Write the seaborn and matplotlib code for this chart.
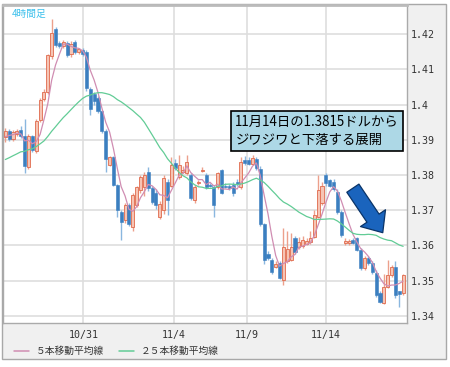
import numpy as np
import pandas as pd
import matplotlib
matplotlib.use('Agg')
import matplotlib.pyplot as plt
from matplotlib.patches import Rectangle
from matplotlib.lines import Line2D
from matplotlib.ticker import FuncFormatter
import seaborn as sns

# 4時間足 OHLC (picture read, 104 bars)
opens = [1.3907, 1.3925, 1.3903, 1.3918, 1.3928, 1.3910, 1.3822, 1.3910, 1.3868, 1.3957,
         1.4015, 1.4035, 1.4138, 1.4215, 1.4175, 1.4166, 1.4176, 1.4145, 1.4178, 1.4150,
         1.4155, 1.4150, 1.4045, 1.4030, 1.4018, 1.3982, 1.3925, 1.3830, 1.3850, 1.3772,
         1.3695, 1.3672, 1.3715, 1.3653, 1.3715, 1.3758, 1.3766, 1.3810, 1.3763, 1.3750,
         1.3682, 1.3700, 1.3781, 1.3770, 1.3834, 1.3795, 1.3810, 1.3805, 1.3800, 1.3729,
         1.3777, 1.3812, 1.3800, 1.3772, 1.3767, 1.3767, 1.3814, 1.3770, 1.3768, 1.3772,
         1.3780, 1.3767, 1.3843, 1.3843, 1.3832, 1.3845, 1.3818, 1.3660, 1.3575, 1.3559,
         1.3540, 1.3550, 1.3502, 1.3555, 1.3560, 1.3621, 1.3595, 1.3598, 1.3605, 1.3610,
         1.3625, 1.3682, 1.3720, 1.3800, 1.3785, 1.3780, 1.3753, 1.3696, 1.3608, 1.3608,
         1.3615, 1.3620, 1.3587, 1.3536, 1.3565, 1.3550, 1.3522, 1.3465, 1.3437, 1.3483,
         1.3516, 1.3540, 1.3470, 1.3465]
highs = [1.3935, 1.3930, 1.3928, 1.3930, 1.3940, 1.3960, 1.3918, 1.3915, 1.3960, 1.4020,
         1.4045, 1.4145, 1.4243, 1.4220, 1.4182, 1.4185, 1.4180, 1.4180, 1.4185, 1.4162,
         1.4160, 1.4155, 1.4050, 1.4035, 1.4025, 1.3985, 1.3930, 1.3855, 1.3855, 1.3775,
         1.3700, 1.3720, 1.3720, 1.3748, 1.3770, 1.3800, 1.3810, 1.3822, 1.3770, 1.3760,
         1.3725, 1.3800, 1.3790, 1.3852, 1.3845, 1.3857, 1.3825, 1.3857, 1.3805, 1.3772,
         1.3785, 1.3822, 1.3805, 1.3778, 1.3772, 1.3808, 1.3818, 1.3778, 1.3775, 1.3780,
         1.3790, 1.3850, 1.3855, 1.3850, 1.3858, 1.3852, 1.3825, 1.3665, 1.3585, 1.3565,
         1.3555, 1.3555, 1.3650, 1.3640, 1.3635, 1.3628, 1.3625, 1.3628, 1.3620, 1.3640,
         1.3700, 1.3800, 1.3780, 1.3805, 1.3790, 1.3788, 1.3760, 1.3700, 1.3620, 1.3618,
         1.3620, 1.3625, 1.3592, 1.3570, 1.3570, 1.3555, 1.3530, 1.3470, 1.3520, 1.3559,
         1.3545, 1.3555, 1.3472, 1.3520]
lows = [1.3895, 1.3898, 1.3898, 1.3912, 1.3905, 1.3806, 1.3818, 1.3865, 1.3862, 1.3950,
        1.4010, 1.4030, 1.4130, 1.4165, 1.4160, 1.4160, 1.4135, 1.4135, 1.4145, 1.4145,
        1.4138, 1.4040, 1.3972, 1.4000, 1.3975, 1.3920, 1.3810, 1.3825, 1.3770, 1.3681,
        1.3615, 1.3665, 1.3655, 1.3640, 1.3710, 1.3750, 1.3740, 1.3755, 1.3718, 1.3705,
        1.3675, 1.3690, 1.3687, 1.3765, 1.3815, 1.3790, 1.3805, 1.3800, 1.3730, 1.3720,
        1.3772, 1.3808, 1.3760, 1.3765, 1.3682, 1.3760, 1.3745, 1.3762, 1.3758, 1.3740,
        1.3770, 1.3760, 1.3830, 1.3828, 1.3828, 1.3815, 1.3655, 1.3548, 1.3560, 1.3520,
        1.3535, 1.3505, 1.3488, 1.3550, 1.3555, 1.3575, 1.3590, 1.3592, 1.3600, 1.3605,
        1.3620, 1.3678, 1.3715, 1.3770, 1.3765, 1.3755, 1.3690, 1.3625, 1.3600, 1.3600,
        1.3605, 1.3585, 1.3530, 1.3530, 1.3545, 1.3520, 1.3455, 1.3438, 1.3435, 1.3478,
        1.3510, 1.3450, 1.3426, 1.3460]
closes = [1.3925, 1.3903, 1.3922, 1.3924, 1.3912, 1.3825, 1.3912, 1.3872, 1.3955, 1.4013,
          1.4035, 1.4140, 1.4205, 1.4170, 1.4166, 1.4178, 1.4142, 1.4172, 1.4150, 1.4158,
          1.4145, 1.4048, 1.3988, 1.4010, 1.3982, 1.3925, 1.3845, 1.3850, 1.3772, 1.3701,
          1.3667, 1.3715, 1.3660, 1.3743, 1.3766, 1.3795, 1.3800, 1.3763, 1.3724, 1.3715,
          1.3718, 1.3792, 1.3729, 1.3829, 1.3820, 1.3829, 1.3815, 1.3838, 1.3735, 1.3767,
          1.3781, 1.3815, 1.3767, 1.3768, 1.3715, 1.3805, 1.3749, 1.3765, 1.3762, 1.3750,
          1.3775, 1.3838, 1.3834, 1.3832, 1.3848, 1.3820, 1.3660, 1.3559, 1.3565, 1.3526,
          1.3548, 1.3508, 1.3597, 1.3590, 1.3595, 1.3582, 1.3610, 1.3615, 1.3612, 1.3620,
          1.3686, 1.3758, 1.3770, 1.3777, 1.3770, 1.3760, 1.3696, 1.3630, 1.3612, 1.3613,
          1.3608, 1.3588, 1.3536, 1.3564, 1.3550, 1.3526, 1.3459, 1.3440, 1.3483, 1.3516,
          1.3540, 1.3460, 1.3462, 1.3516]
# closes before the visible window, only used to warm up the moving averages
prior_closes = [1.3775, 1.3780, 1.3790, 1.3770, 1.3785, 1.3800, 1.3810, 1.3795, 1.3820, 1.3830,
                1.3815, 1.3840, 1.3850, 1.3835, 1.3860, 1.3870, 1.3880, 1.3865, 1.3890, 1.3900,
                1.3885, 1.3910, 1.3905, 1.3920]

date_labels = ['10/31', '11/4', '11/9', '11/14']
date_pos = [20.2, 43.6, 62.6, 82.9]
price_ticks = [1.34, 1.35, 1.36, 1.37, 1.38, 1.39, 1.40, 1.41, 1.42]
ma5_color = '#d08db2'
ma25_color = '#62cc96'

sns.set_style('white')
plt.rcParams['font.family'] = ['Noto Sans CJK JP', 'DejaVu Sans']

df = pd.DataFrame({'open': opens, 'high': highs, 'low': lows, 'close': closes})
df['bar'] = np.arange(len(df))
all_close = pd.Series(prior_closes + closes)
n0 = len(prior_closes)
df['ma5'] = all_close.rolling(5).mean().iloc[n0:].to_numpy()
df['ma25'] = all_close.rolling(25).mean().iloc[n0:].to_numpy()

fig = plt.figure(figsize=(4.5, 3.67), dpi=100)
# gray chart panel behind the plot
fig.patches.append(Rectangle((2 / 450, 8 / 367), 444 / 450, 355 / 367, transform=fig.transFigure,
                             fc='#f0f0f0', ec='#a8a8a8', lw=1, zorder=-5))
ax = fig.add_axes([3 / 450, 44 / 367, 404 / 450, 318 / 367])
ax.set_facecolor('white')

up = df['close'] >= df['open']
dn = ~up
body_lo = np.minimum(df['open'], df['close'])
body_h = np.maximum((df['close'] - df['open']).abs(), 0.00025)

ax.vlines(df['bar'][up], df['low'][up], df['high'][up], color='#eca08c', lw=1, zorder=2)
ax.vlines(df['bar'][dn], df['low'][dn], df['high'][dn], color='#8ab7df', lw=1, zorder=2)
ax.bar(df['bar'][up], body_h[up], bottom=body_lo[up], width=0.8,
       color='#f6c4b4', edgecolor='#e06a4c', lw=0.6, zorder=3)
ax.bar(df['bar'][dn], body_h[dn], bottom=body_lo[dn], width=0.8,
       color='#3b7fc0', edgecolor='#3b7fc0', lw=0.4, zorder=3)

sns.lineplot(data=df, x='bar', y='ma5', ax=ax, color=ma5_color, lw=0.9, legend=False, zorder=4)
sns.lineplot(data=df, x='bar', y='ma25', ax=ax, color=ma25_color, lw=0.9, legend=False, zorder=4)

ax.set_xlim(-0.6, 104.0)
ax.set_ylim(1.33798, 1.42832)
ax.set_xticks(date_pos)
ax.set_xticklabels(date_labels)
ax.set_yticks(price_ticks)
ax.yaxis.set_major_formatter(FuncFormatter(lambda v, _: f'{v:g}'))
ax.yaxis.tick_right()
ax.set_xlabel('')
ax.set_ylabel('')
ax.grid(True, color='#dedede', lw=1.2)
ax.set_axisbelow(True)
ax.tick_params(axis='both', length=0, labelsize=7.2, colors='#333333')
ax.tick_params(axis='y', pad=2.5)
ax.tick_params(axis='x', pad=5)
for lbl in ax.get_xticklabels() + ax.get_yticklabels():
    lbl.set_family('DejaVu Sans Mono')
for side in ['left', 'right', 'bottom']:
    ax.spines[side].set_color('#aaaaaa')
    ax.spines[side].set_linewidth(1)
ax.spines['top'].set_color('#bbbbbb')
ax.spines['top'].set_linewidth(2)

ax.text(0.022, 0.973, '4時間足', transform=ax.transAxes, color='#3cc0ec',
        fontsize=7, va='center', ha='left')

ax.text(0.575, 0.655, '11月14日の1.3815ドルから\nジワジワと下落する展開',
        transform=ax.transAxes, fontsize=9.6, va='top', ha='left', color='black',
        linespacing=1.35, zorder=6,
        bbox=dict(boxstyle='square,pad=0.3', fc='#add8e6', ec='black', lw=1.2))

ax.annotate('', xy=(0.940, 0.284), xytext=(0.866, 0.424),
            xycoords='axes fraction', textcoords='axes fraction', zorder=6,
            arrowprops=dict(arrowstyle='simple,head_length=0.9,head_width=1.55,tail_width=0.75',
                            mutation_scale=14, fc='#1a64bd', ec='#0a3468', lw=0.9,
                            shrinkA=0, shrinkB=0))

handles = [Line2D([], [], color=ma5_color, lw=1.1), Line2D([], [], color=ma25_color, lw=1.1)]
labels = ['５本移動平均線', '２５本移動平均線']
fig.legend(handles, labels, loc='center left', bbox_to_anchor=(14 / 450, 1 - 351 / 367),
           ncol=2, frameon=False, fontsize=7, handlelength=1.55, handletextpad=0.7,
           columnspacing=1.5, borderpad=0, borderaxespad=0, labelcolor='#333333')

fig.savefig('out.png', dpi=100)
